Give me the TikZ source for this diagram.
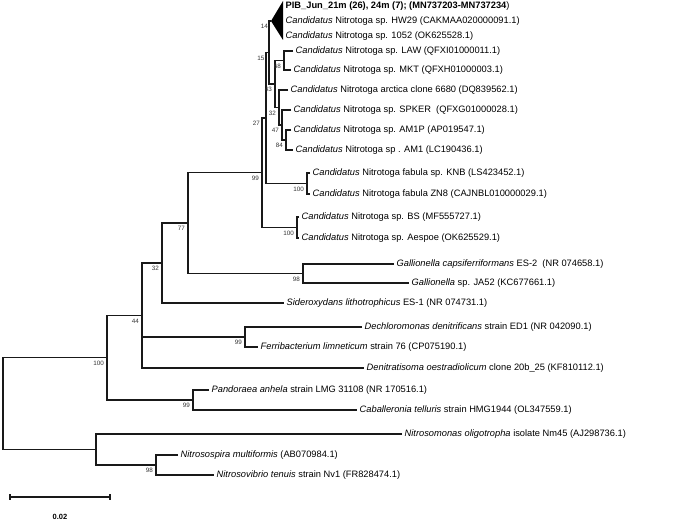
\documentclass[tikz,border=0pt]{standalone}
\usepackage{fontspec}
\setmainfont{Liberation Sans}
\begin{document}
\begin{tikzpicture}[x=1pt,y=-1pt,
  leaf/.style={anchor=west, inner xsep=2.5pt, inner ysep=0pt, font=\fontsize{9.3}{10}\selectfont},
  bs/.style={anchor=north east, inner sep=0pt, font=\fontsize{6.3}{6.3}\selectfont, text=black!80},
  br/.style={draw=black!90, line width=1.05pt}]
\useasboundingbox (0,0) rectangle (675,521);
% internal nodes
\coordinate (n14) at (271,21);
\coordinate (tritop) at (283,1);
\coordinate (tribot) at (283,40);
\coordinate (n68) at (284,60.5);
\coordinate (n84) at (286,140);
\coordinate (n47) at (282,125);
\coordinate (n32a) at (279,107.5);
\coordinate (n43) at (275,84);
\coordinate (n15) at (269,52.5);
\coordinate (n100a) at (307,183.5);
\coordinate (n27) at (266,118);
\coordinate (n100b) at (297,227.5);
\coordinate (n99) at (262,172.75);
\coordinate (n98g) at (303,273.5);
\coordinate (n77) at (188,223);
\coordinate (n32b) at (162,263);
\coordinate (n99f) at (245,337);
\coordinate (n44) at (142,315.5);
\coordinate (n99p) at (193,400);
\coordinate (n100) at (107,357.75);
\coordinate (n98n) at (156,465);
\coordinate (nn) at (96,449.5);
\coordinate (root) at (3,403.6);
% collapsed clade
\fill[black] (n14) -- (tritop) -- (tribot) -- cycle;
\node[leaf] (pib) at (283,6) {\textbf{PIB\_Jun\_21m (26), 24m (7); (MN737203-MN737234})};
\node[leaf] (hw29) at (283,21) {\textit{Candidatus} Nitrotoga sp. HW29 (CAKMAA020000091.1)};
\node[leaf] (s1052) at (283,36) {\textit{Candidatus} Nitrotoga sp. 1052 (OK625528.1)};
% leaves
\node[leaf] (law) at (293,51) {\textit{Candidatus} Nitrotoga sp. LAW (QFXI01000011.1)};
\node[leaf] (mkt) at (291,70) {\textit{Candidatus} Nitrotoga sp. MKT (QFXH01000003.1)};
\node[leaf] (arc) at (288,90) {\textit{Candidatus} Nitrotoga arctica clone 6680 (DQ839562.1)};
\node[leaf] (spker) at (291,110) {\textit{Candidatus} Nitrotoga sp. SPKER\ \ (QFXG01000028.1)};
\node[leaf] (am1p) at (291,130) {\textit{Candidatus} Nitrotoga sp. AM1P (AP019547.1)};
\node[leaf] (am1) at (293,150) {\textit{Candidatus} Nitrotoga sp . AM1 (LC190436.1)};
\node[leaf] (knb) at (310,173) {\textit{Candidatus} Nitrotoga fabula sp. KNB (LS423452.1)};
\node[leaf] (zn8) at (310,194) {\textit{Candidatus} Nitrotoga fabula ZN8 (CAJNBL010000029.1)};
\node[leaf] (bs) at (299,217) {\textit{Candidatus} Nitrotoga sp. BS (MF555727.1)};
\node[leaf] (aes) at (299,238) {\textit{Candidatus} Nitrotoga sp. Aespoe (OK625529.1)};
\node[leaf] (gcap) at (394,264) {\textit{Gallionella capsiferriformans} ES-2\ \ (NR 074658.1)};
\node[leaf] (gja) at (409,283) {\textit{Gallionella} sp. JA52 (KC677661.1)};
\node[leaf] (sider) at (284,303) {\textit{Sideroxydans lithotrophicus} ES-1 (NR 074731.1)};
\node[leaf] (dech) at (362,327) {\textit{Dechloromonas denitrificans} strain ED1 (NR 042090.1)};
\node[leaf] (ferri) at (258,347) {\textit{Ferribacterium limneticum} strain 76 (CP075190.1)};
\node[leaf] (denit) at (364,368) {\textit{Denitratisoma oestradiolicum} clone 20b\_25 (KF810112.1)};
\node[leaf] (pand) at (209,390) {\textit{Pandoraea anhela} strain LMG 31108 (NR 170516.1)};
\node[leaf] (cab) at (357,410) {\textit{Caballeronia telluris} strain HMG1944 (OL347559.1)};
\node[leaf] (nsom) at (402,434) {\textit{Nitrosomonas oligotropha} isolate Nm45 (AJ298736.1)};
\node[leaf] (nspi) at (178,455) {\textit{Nitrosospira multiformis} (AB070984.1)};
\node[leaf] (nvib) at (214,475) {\textit{Nitrosovibrio tenuis} strain Nv1 (FR828474.1)};
% branches
\draw[br] (law.west) -| (n68) |- (mkt.west);
\draw[br] (am1p.west) -| (n84) |- (am1.west);
\draw[br] (spker.west) -| (n47) |- (n84);
\draw[br] (arc.west) -| (n32a) |- (n47);
\draw[br] (n68) -| (n43) |- (n32a);
\draw[br] (n14) -| (n15) |- (n43);
\draw[br] (knb.west) -| (n100a) |- (zn8.west);
\draw[br] (n15) -| (n27) |- (n100a);
\draw[br] (bs.west) -| (n100b) |- (aes.west);
\draw[br] (n27) -| (n99) |- (n100b);
\draw[br] (gcap.west) -| (n98g) |- (gja.west);
\draw[br] (n99) -| (n77) |- (n98g);
\draw[br] (n77) -| (n32b) |- (sider.west);
\draw[br] (dech.west) -| (n99f) |- (ferri.west);
\draw[br] (n32b) -| (n44) |- (denit.west);
\draw[br] (n44 |- n99f) -- (n99f);
\draw[br] (pand.west) -| (n99p) |- (cab.west);
\draw[br] (n44) -| (n100) |- (n99p);
\draw[br] (nspi.west) -| (n98n) |- (nvib.west);
\draw[br] (nsom.west) -| (nn) |- (n98n);
\draw[br] (n100) -| (root) |- (nn);
% bootstrap values
\node[bs] (l14) at (268,24) {14};
\node[bs] (l15) at (264.5,55.5) {15};
\node[bs] (l68) at (281,63.5) {68};
\node[bs] (l43) at (272,87) {43};
\node[bs] (l32a) at (276,110.5) {32};
\node[bs] (l47) at (279,128) {47};
\node[bs] (l84) at (283,143) {84};
\node[bs] (l27) at (260,121) {27};
\node[bs] (l100a) at (304,186.5) {100};
\node[bs] (l99) at (259,175.75) {99};
\node[bs] (l100b) at (294,230.5) {100};
\node[bs] (l77) at (185,226) {77};
\node[bs] (l98g) at (300,276.5) {98};
\node[bs] (l32b) at (159,266) {32};
\node[bs] (l44) at (139,318.5) {44};
\node[bs] (l99f) at (242,340) {99};
\node[bs] (l100) at (104,360.75) {100};
\node[bs] (l99p) at (190,403) {99};
\node[bs] (l98n) at (153,468) {98};
% scale bar
\coordinate (sbl) at (10,497);
\coordinate (sbr) at (110,497);
\draw[br] (sbl) -- (sbr);
\draw[br] ([yshift=3pt]sbl) -- ([yshift=-3pt]sbl);
\draw[br] ([yshift=3pt]sbr) -- ([yshift=-3pt]sbr);
\node[font=\fontsize{7.5}{7.5}\selectfont\bfseries, inner sep=0pt] (sblab) at (60,517) {0.02};
\end{tikzpicture}
\end{document}
